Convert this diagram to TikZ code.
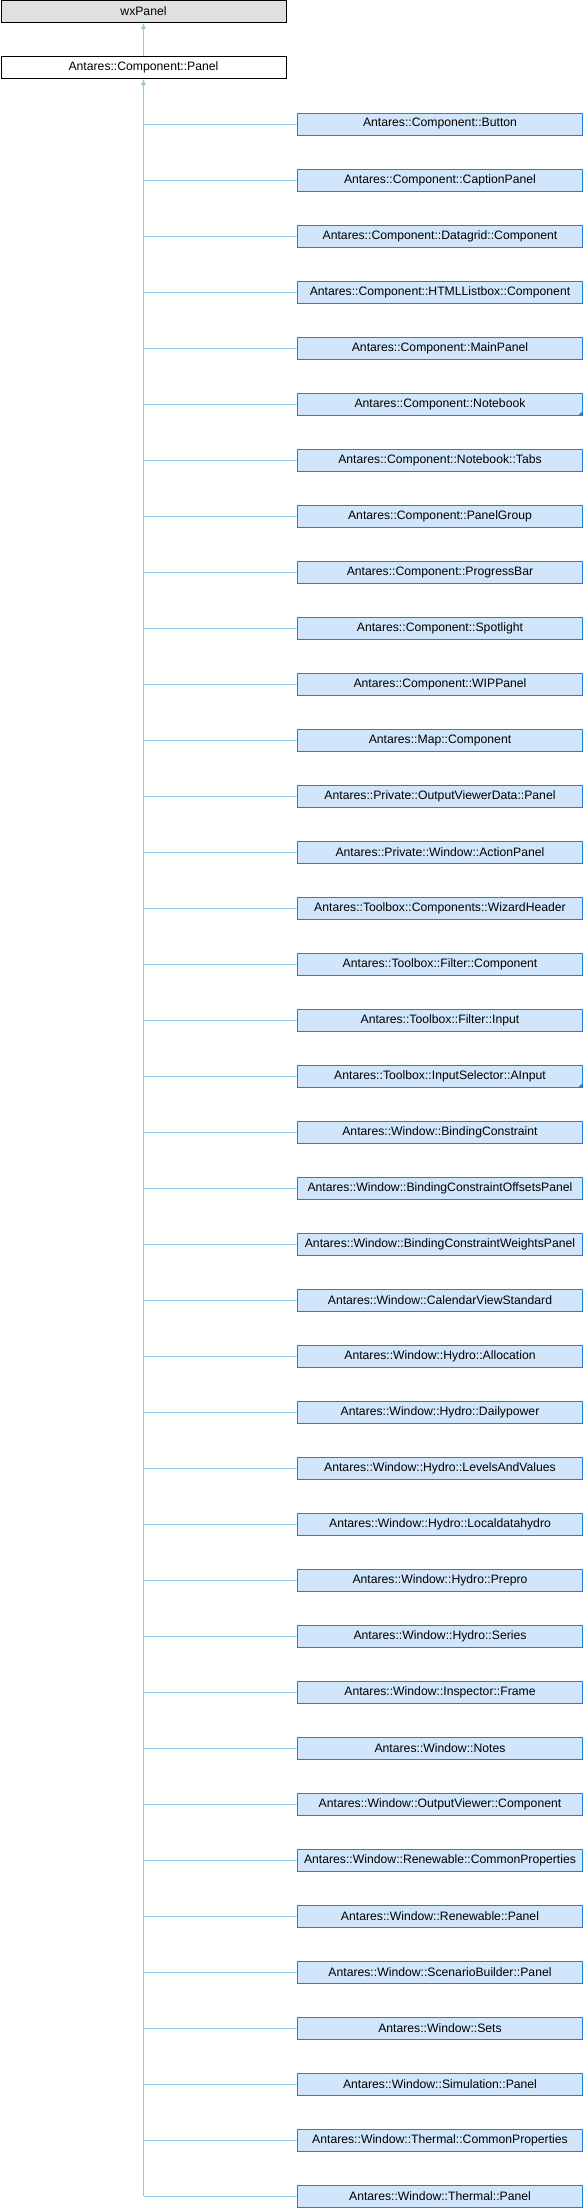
\documentclass[tikz,border=0pt]{standalone}
\usepackage{fontspec}
\setmainfont{Liberation Sans}
\usepackage{tikz}
\usetikzlibrary{arrows.meta}

\definecolor{edgeblue}{RGB}{140,200,238}
\definecolor{boxblue}{RGB}{30,130,225}
\definecolor{fillblue}{RGB}{210,230,251}
\definecolor{extgray}{RGB}{224,224,224}

\tikzset{
  cls/.style={draw, line width=1pt, minimum width=285pt, minimum height=22pt, inner sep=0pt,
    font=\fontsize{12.2}{14}\selectfont},
  extcls/.style={cls, fill=extgray, draw=black},
  basecls/.style={cls, fill=white, draw=black},
  childcls/.style={cls, fill=fillblue, draw=boxblue},
  edge/.style={draw=edgeblue, line width=1pt},
  toparent/.style={edge, -{Latex[length=6pt,width=5pt]}},
  moremark/.style={fill=boxblue}
}

\begin{document}
\begin{tikzpicture}[x=1pt,y=-1pt]
    \useasboundingbox (0,0) rectangle (584,2208);

    \node[extcls] (wxpanel) at (143.5,11.5) {wxPanel};
    \node[basecls] (panel) at (143.5,67.5) {Antares::Component::Panel};
    \draw[toparent] (panel) -- (wxpanel);

    \foreach \lbl [count=\i] in {
        Antares::Component::Button,
        Antares::Component::CaptionPanel,
        Antares::Component::Datagrid::Component,
        Antares::Component::HTMLListbox::Component,
        Antares::Component::MainPanel,
        Antares::Component::Notebook,
        Antares::Component::Notebook::Tabs,
        Antares::Component::PanelGroup,
        Antares::Component::ProgressBar,
        Antares::Component::Spotlight,
        Antares::Component::WIPPanel,
        Antares::Map::Component,
        Antares::Private::OutputViewerData::Panel,
        Antares::Private::Window::ActionPanel,
        Antares::Toolbox::Components::WizardHeader,
        Antares::Toolbox::Filter::Component,
        Antares::Toolbox::Filter::Input,
        Antares::Toolbox::InputSelector::AInput,
        Antares::Window::BindingConstraint,
        Antares::Window::BindingConstraintOffsetsPanel,
        Antares::Window::BindingConstraintWeightsPanel,
        Antares::Window::CalendarViewStandard,
        Antares::Window::Hydro::Allocation,
        Antares::Window::Hydro::Dailypower,
        Antares::Window::Hydro::LevelsAndValues,
        Antares::Window::Hydro::Localdatahydro,
        Antares::Window::Hydro::Prepro,
        Antares::Window::Hydro::Series,
        Antares::Window::Inspector::Frame,
        Antares::Window::Notes,
        Antares::Window::OutputViewer::Component,
        Antares::Window::Renewable::CommonProperties,
        Antares::Window::Renewable::Panel,
        Antares::Window::ScenarioBuilder::Panel,
        Antares::Window::Sets,
        Antares::Window::Simulation::Panel,
        Antares::Window::Thermal::CommonProperties,
        Antares::Window::Thermal::Panel}{
        \node[childcls] (child\i) at (440,{124+56*(\i-1)}) {\lbl};
        \draw[edge] (child\i.west) -- (child\i.west -| panel.south);
    }

    % classes with further children
    \foreach \i in {6,18}{
        \fill[moremark] ([shift={(-0.5,-0.5)}]child\i.south east) -- ++(-4,0) -- ++(4,-4) -- cycle;
    }

    \draw[toparent] (child38.west -| panel.south) -- (panel.south);
\end{tikzpicture}
\end{document}
